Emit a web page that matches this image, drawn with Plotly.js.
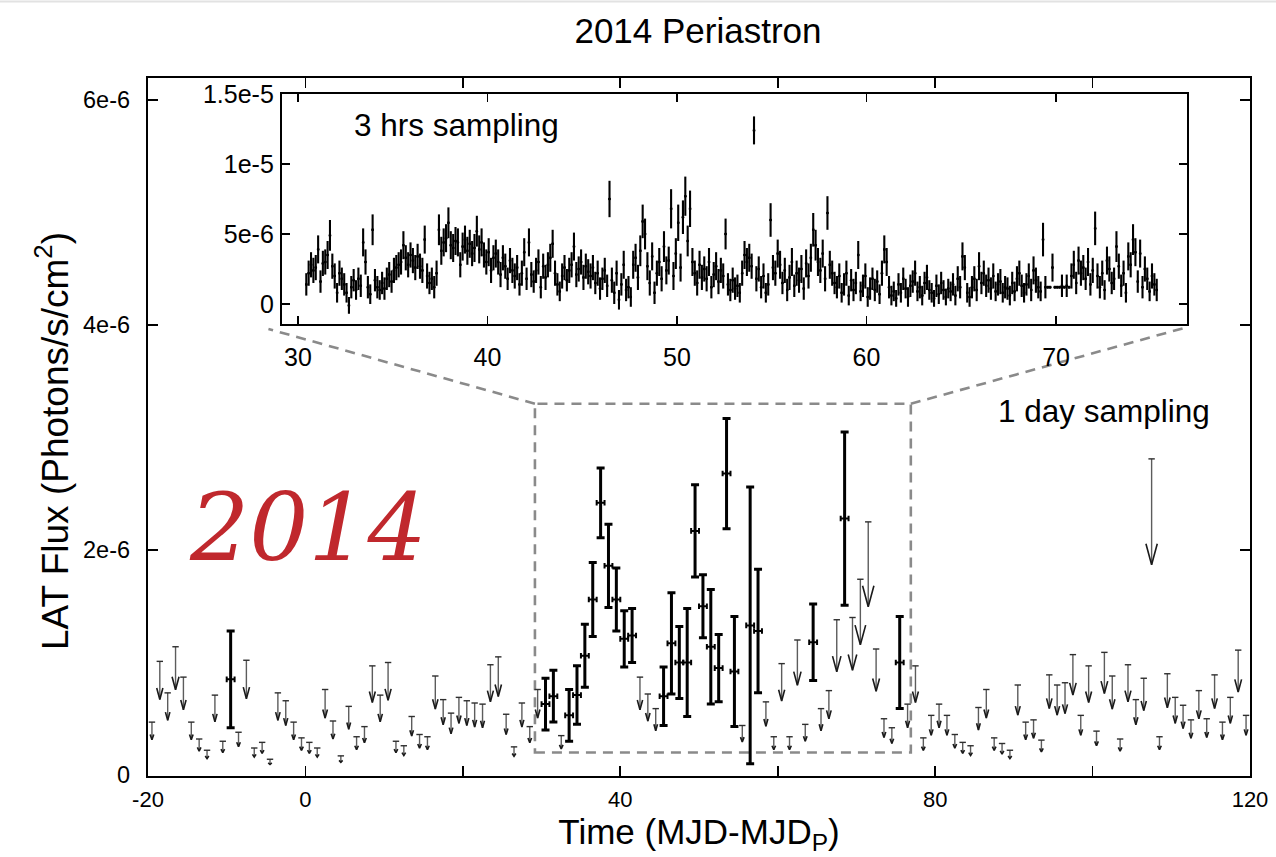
<!DOCTYPE html>
<html>
<head>
<meta charset="utf-8">
<script src="https://cdn.plot.ly/plotly-3.0.1.min.js"></script>
<style>
  html, body { margin: 0; padding: 0; background: #ffffff; }
  #chart { width: 1276px; height: 857px; }
</style>
</head>
<body>
<div id="chart"></div>
<script>
// LAT light curve around the 2014 periastron.
// Fluxes in the arrays below are in units of FLUX_UNIT (photons/s/cm^2).
const FLUX_UNIT = 1e-6;

// 1-day bins: 95% upper limits (day centre, MJD - MJD_P)
const ulDays = [
  -19.5, -18.5, -17.5, -16.5, -15.5, -14.5, -13.5, -12.5, -11.5, -10.5,
  -8.5, -7.5, -6.5, -5.5, -4.5, -3.5, -2.5, -1.5, -0.5, 0.5,
  1.5, 2.5, 3.5, 4.5, 5.5, 6.5, 7.5, 8.5, 9.5, 10.5,
  11.5, 12.5, 13.5, 14.5, 15.5, 16.5, 17.5, 18.5, 19.5, 20.5,
  21.5, 22.5, 23.5, 24.5, 25.5, 26.5, 27.5, 28.5, 29.5, 32.5,
  42.5, 43.5, 44.5, 55.5, 58.5, 59.5, 60.5, 61.5, 62.5, 63.5,
  65.5, 66.5, 67.5, 69.5, 70.5, 71.5, 72.5, 73.5, 74.5, 76.5,
  77.5, 78.5, 79.5, 80.5, 81.5, 82.5, 83.5, 84.5, 85.5, 86.5,
  87.5, 88.5, 89.5, 90.5, 91.5, 92.5, 93.5, 94.5, 95.5, 96.5,
  97.5, 98.5, 99.5, 100.5, 101.5, 102.5, 103.5, 104.5, 105.5, 106.5,
  107.5, 108.5, 109.5, 110.5, 111.5, 112.5, 113.5, 114.5, 115.5, 116.5,
  117.5, 118.5, 119.5
];
const ulFlux = [
  0.47, 1.01, 0.73, 1.14, 0.87, 0.47, 0.32, 0.22, 0.71, 0.30,
  0.38, 1.02, 0.24, 0.29, 0.14, 0.73, 0.66, 0.47, 0.33, 0.29,
  0.24, 0.76, 0.48, 0.17, 0.61, 0.34, 0.43, 0.97, 0.71, 1.00,
  0.30, 0.26, 0.52, 0.36, 0.34, 0.88, 0.67, 0.55, 0.69, 0.66,
  0.64, 0.63, 0.98, 1.05, 0.54, 0.25, 0.64, 0.43, 0.76, 0.35,
  0.87, 0.72, 0.59, 0.44, 0.65, 0.34, 0.99, 0.34, 1.20, 0.45,
  0.59, 0.75, 1.38, 1.40, 1.74, 2.25, 1.12, 0.50, 0.42, 0.63,
  0.97, 0.33, 0.53, 0.63, 0.53, 0.36, 0.29, 0.26, 0.60, 0.76,
  0.33, 0.28, 0.22, 0.80, 0.47, 0.49, 0.31, 0.89, 0.80, 0.82,
  1.07, 0.53, 0.97, 0.39, 1.09, 0.88, 0.32, 0.98, 0.67, 0.86,
  2.81, 0.34, 0.90, 0.69, 0.62, 0.49, 0.75, 0.50, 0.89, 0.47,
  0.69, 1.11, 0.53
];

// 1-day bins: detections with 1-sigma errors
const detDays = [
  -9.5, 30.5, 31.5, 33.5, 34.5, 35.5, 36.5, 37.5, 38.5, 39.5,
  40.5, 41.5, 45.5, 46.5, 47.5, 48.5, 49.5, 50.5, 51.5, 52.5,
  53.5, 54.5, 56.5, 57.5, 64.5, 68.5, 75.5
];
const detFlux = [
  0.85, 0.63, 0.70, 0.53, 0.71, 1.06, 1.56, 2.42, 1.86, 1.56,
  1.21, 1.24, 0.70, 1.17, 1.00, 1.00, 2.17, 1.50, 1.14, 0.95,
  2.68, 0.92, 1.33, 1.28, 1.18, 2.28, 1.00
];
const detErr = [
  0.43, 0.23, 0.23, 0.23, 0.26, 0.28, 0.33, 0.31, 0.37, 0.28,
  0.25, 0.24, 0.26, 0.45, 0.32, 0.48, 0.41, 0.28, 0.51, 0.30,
  0.49, 0.49, 1.23, 0.55, 0.34, 0.77, 0.41
];

// 3-hour bins (inset): first bin centre, bin width (days), one row per day.
// Flux and error in units of INSET_UNIT.
const INSET_UNIT = 1e-7;
const insetStart = 30.4375;
const insetStep = 0.125;
const insetFlux = [
  14, 22, 28, 24, 26, 39, 16, 29,
  30, 35, 49, 27, 20, 8, 22, 18,
  14, 8, -1, 12, 17, 10, 18, 13,
  44, 30, 12, 7, 53, 17, 12, 10,
  15, 11, 18, 21, 16, 24, 26, 28,
  30, 42, 33, 28, 35, 31, 26, 34,
  27, 24, 46, 20, 15, 18, 12, 22,
  53, 38, 44, 47, 58, 42, 40, 45,
  44, 28, 41, 46, 38, 43, 36, 40,
  52, 39, 44, 35, 30, 37, 24, 33,
  36, 30, 21, 33, 27, 18, 31, 24,
  20, 26, 14, 22, 37, 18, 44, 21,
  16, 24, 30, 12, 27, 19, 28, 33,
  43, 22, 14, 9, 20, 26, 17, 24,
  28, 41, 21, 25, 30, 19, 27, 23,
  20, 26, 15, 22, 11, 18, 24, 13,
  75, 17, 8, 22, 3, 14, 28, 10,
  12, 5, 28, 33, 19, 38, 59, 50,
  27, 15, 34, 8, 22, 30, 18, 41,
  24, 31, 68, 20, 36, 58, 26, 62,
  77, 45, 68, 30, 22, 15, 28, 19,
  25, 18, 30, 12, 21, 27, 16, 24,
  20, 50, 14, 10, 17, 11, 13, 8,
  22, 35, 30, 33, 27, 124, 18, 25,
  12, 20, 8, 14, 60, 26, 22, 36,
  28, 15, 24, 10, 19, 30, 13, 22,
  17, 25, 11, 29, 20, 33, 53, 42,
  30, 24, 36, 18, 65, 28, 22, 15,
  12, 20, 8, 14, 22, 6, 17, 10,
  15, 35, 9, 13, 20, 5, 11, 18,
  10, 16, 7, 22, 39, 30, 12, 6,
  9, 4, 14, 8, 18, 11, 5, 13,
  16, 22, 9, 12, 6, 15, 19, 10,
  8, 4, 13, 7, 15, 10, 5, 11,
  9, 14, 6, 18, 12, 34, 26, 8,
  5, 12, 18, 10, 27, 15, 22, 13,
  17, 11, 20, 9, 14, 16, 8, 12,
  11, 6, 15, 9, 18, 22, 13, 8,
  14, 20, 10, 24, 17, 12, 9, 46,
  12, 12, 12, 26, 12, 12, 12, 13,
  12, 13, 12, 20, 28, 15, 31, 22,
  26, 18, 30, 14, 24, 54, 20, 12,
  22, 10, 31, 25, 15, 18, 41, 27,
  13, 22, 8, 34, 28, 46, 37, 16,
  36, 12, 25, 18, 9, 20, 14, 10
];
const insetErr = [
  8, 9, 9, 9, 9, 10, 8, 9,
  9, 10, 11, 9, 9, 7, 9, 8,
  8, 7, 6, 8, 8, 7, 8, 8,
  10, 9, 8, 7, 11, 8, 8, 7,
  8, 8, 8, 9, 8, 9, 9, 9,
  9, 10, 9, 9, 9, 9, 9, 9,
  9, 9, 10, 9, 8, 8, 8, 9,
  11, 10, 10, 10, 11, 10, 10, 10,
  10, 9, 10, 10, 10, 10, 9, 10,
  11, 10, 10, 9, 9, 10, 9, 9,
  10, 9, 9, 9, 9, 8, 9, 9,
  9, 9, 8, 9, 10, 8, 10, 9,
  8, 9, 9, 8, 9, 9, 9, 10,
  10, 9, 8, 7, 9, 9, 8, 9,
  9, 10, 9, 9, 9, 9, 9, 9,
  9, 9, 8, 9, 8, 8, 9, 8,
  13, 9, 8, 9, 7, 8, 10, 8,
  8, 7, 10, 10, 9, 11, 12, 11,
  10, 9, 10, 8, 9, 10, 9, 11,
  10, 10, 14, 10, 11, 13, 10, 12,
  14, 11, 13, 10, 9, 9, 10, 9,
  9, 9, 10, 8, 9, 10, 9, 9,
  9, 11, 8, 8, 9, 8, 8, 7,
  9, 10, 10, 10, 9, 10, 9, 9,
  8, 9, 7, 8, 12, 9, 9, 10,
  10, 8, 9, 8, 9, 10, 8, 9,
  9, 10, 8, 10, 9, 10, 12, 11,
  10, 9, 10, 9, 12, 10, 9, 8,
  8, 9, 7, 8, 9, 7, 8, 8,
  8, 10, 7, 8, 9, 7, 8, 8,
  8, 8, 7, 9, 10, 10, 8, 7,
  7, 6, 8, 7, 8, 7, 7, 8,
  8, 9, 7, 8, 7, 8, 9, 7,
  7, 6, 8, 7, 8, 7, 6, 7,
  7, 8, 7, 9, 8, 10, 9, 7,
  7, 8, 9, 8, 10, 8, 9, 8,
  9, 8, 9, 7, 8, 9, 7, 8,
  8, 7, 8, 7, 9, 9, 8, 7,
  8, 9, 8, 10, 9, 8, 7, 12,
  8, 1, 1, 10, 1, 1, 1, 8,
  1, 8, 1, 9, 10, 8, 10, 9,
  9, 8, 10, 8, 9, 12, 9, 8,
  9, 7, 10, 9, 8, 8, 11, 9,
  8, 9, 7, 10, 9, 11, 10, 8,
  10, 8, 9, 8, 7, 9, 8, 8
];

// Axis ticks (labelled major ticks, unlabelled minor ticks)
const mainXTicks = [-20, 0, 40, 80, 120];
const mainXLabels = ['-20', '0', '40', '80', '120'];
const mainXMinor = [20, 60, 100];
const mainYTicks = [0, 2e-6, 4e-6, 6e-6];
const mainYLabels = ['0', '2e-6', '4e-6', '6e-6'];
const insetXTicks = [30, 40, 50, 60, 70];
const insetXLabels = ['30', '40', '50', '60', '70'];
const insetYTicks = [0, 5e-6, 1e-5, 1.5e-5];
const insetYLabels = ['0', '5e-6', '1e-5', '1.5e-5'];

// Zoom window shown in the inset (days, flux)
const zoomX = [29.156, 76.91];
const zoomY = [0.2e-6, 3.3e-6];

// ---- geometry ----
const W = 1276, H = 857;
const M = { l: 148, r: 26, t: 78, b: 81 };
const mainXRange = [-20, 120];
const mainYRange = [-0.0089e-6, 6.1956e-6];
const insetYRange = [-1.43e-6, 15e-6];
const plotW = W - M.l - M.r, plotH = H - M.t - M.b;
const pxPerDay = plotW / (mainXRange[1] - mainXRange[0]);
const pxPerFlux = plotH / (mainYRange[1] - mainYRange[0]);

// ---- upper-limit arrows: cap, stem and open head ----
const TIP_FRAC = 0.665;
const stem = { x: [], y: [] }, caps = { x: [], y: [] }, heads = { x: [], y: [] };
const capHalf = 3.2 / pxPerDay;
ulDays.forEach((d, i) => {
  const u = ulFlux[i] * FLUX_UNIT;
  const tip = u * TIP_FRAC;
  const lenPx = (u - tip) * pxPerFlux;
  const headPx = Math.min(0.3 * lenPx, 21);
  const halfPx = Math.max(0.27 * headPx, 1.8);
  const headTop = tip + headPx / pxPerFlux;
  const hw = halfPx / pxPerDay;
  stem.x.push(d, d, null); stem.y.push(u, tip, null);
  caps.x.push(d - capHalf, d + capHalf, null); caps.y.push(u, u, null);
  heads.x.push(d - hw, d, d + hw, null); heads.y.push(headTop, tip, headTop, null);
});

const insetT = insetFlux.map((_, k) => insetStart + k * insetStep);

const traces = [
  { type: 'scatter', mode: 'lines', x: stem.x, y: stem.y, hoverinfo: 'skip',
    line: { color: '#5c5c5c', width: 1.4 }, connectgaps: false },
  { type: 'scatter', mode: 'lines', x: caps.x, y: caps.y, hoverinfo: 'skip',
    line: { color: '#2e2e2e', width: 1.4 }, connectgaps: false },
  { type: 'scatter', mode: 'lines', x: heads.x, y: heads.y, hoverinfo: 'skip',
    line: { color: '#1a1a1a', width: 1.6 }, connectgaps: false },
  { type: 'scatter', mode: 'markers', x: detDays, y: detFlux.map(v => v * FLUX_UNIT),
    marker: { size: 2, color: '#000' },
    error_y: { type: 'data', array: detErr.map(v => v * FLUX_UNIT), thickness: 3, width: 4, color: '#000' },
    error_x: { type: 'constant', value: 0.5, thickness: 2, width: 2.8, color: '#000' } },
  { type: 'scatter', mode: 'markers', xaxis: 'x2', yaxis: 'y2',
    x: insetT, y: insetFlux.map(v => v * INSET_UNIT),
    marker: { size: 2.5, color: '#000' },
    error_y: { type: 'data', array: insetErr.map(v => v * INSET_UNIT), thickness: 2.1, width: 0, color: '#000' },
    error_x: { type: 'constant', value: insetStep / 2, thickness: 2.2, width: 0, color: '#000' } }
];

const FONT = 'Liberation Sans, Arial, sans-serif';
const axisCommon = {
  showline: true, linecolor: '#000', linewidth: 2.2, mirror: 'ticks',
  ticks: 'inside', tickcolor: '#000', tickwidth: 1.6,
  showgrid: false, zeroline: false, tickmode: 'array',
  tickfont: { family: FONT, size: 23.5, color: '#000' }
};
const insetTickFont = { family: FONT, size: 25, color: '#000' };

const layout = {
  width: W, height: H, margin: M,
  paper_bgcolor: '#fff', plot_bgcolor: '#fff', showlegend: false,
  title: { text: '2014 Periastron', x: 698 / W, xanchor: 'center', y: 1 - 31 / H, yanchor: 'middle',
           font: { family: FONT, size: 35, color: '#000' } },
  xaxis: Object.assign({}, axisCommon, {
    range: mainXRange, tickvals: mainXTicks, ticktext: mainXLabels, ticklen: 10,
    minor: { tickmode: 'array', tickvals: mainXMinor, ticks: 'inside', ticklen: 10, tickwidth: 1.6, tickcolor: '#000', showgrid: false },
    tickfont: { family: FONT, size: 22, color: '#000' },
    ticklabelstandoff: 2,
    title: { text: 'Time (MJD-MJD<sub>P</sub>)', font: { family: FONT, size: 35, color: '#000' }, standoff: 3 }
  }),
  yaxis: Object.assign({}, axisCommon, {
    range: mainYRange, tickvals: mainYTicks, ticktext: mainYLabels, ticklen: 10,
    ticklabelstandoff: 11
  }),
  xaxis2: Object.assign({}, axisCommon, {
    domain: [(282 - M.l) / plotW, (1187 - M.l) / plotW], anchor: 'y2',
    range: zoomX, tickvals: insetXTicks, ticktext: insetXLabels, ticklen: 8,
    tickfont: insetTickFont, ticklabelstandoff: 10
  }),
  yaxis2: Object.assign({}, axisCommon, {
    domain: [(H - M.b - 324) / plotH, (H - M.b - 94) / plotH], anchor: 'x2',
    range: insetYRange, tickvals: insetYTicks, ticktext: insetYLabels, ticklen: 8,
    tickfont: insetTickFont, ticklabelstandoff: 1
  }),
  shapes: [
    { type: 'rect', xref: 'x', yref: 'y', x0: zoomX[0], x1: zoomX[1], y0: zoomY[0], y1: zoomY[1],
      line: { color: '#8a8a8a', width: 2.6, dash: '10px,7px' }, layer: 'below' },
    { type: 'line', xref: 'x', yref: 'y', x0: zoomX[0], y0: zoomY[1], x1: -4.7, y1: 3.965e-6,
      line: { color: '#8a8a8a', width: 2.6, dash: '10px,7px' }, layer: 'below' },
    { type: 'line', xref: 'x', yref: 'y', x0: zoomX[1], y0: zoomY[1], x1: 111.7, y1: 3.975e-6,
      line: { color: '#8a8a8a', width: 2.6, dash: '10px,7px' }, layer: 'below' },
    { type: 'line', xref: 'paper', yref: 'paper', x0: -M.l / plotW, x1: 1 + M.r / plotW,
      y0: (H - M.b - 1.5) / plotH, y1: (H - M.b - 1.5) / plotH,
      line: { color: '#e2e2e2', width: 2 } }
  ],
  annotations: [
    { xref: 'paper', yref: 'paper', x: (52 - M.l) / plotW, y: (H - M.b - 441) / plotH,
      xanchor: 'center', yanchor: 'middle', textangle: -90, showarrow: false,
      text: 'LAT Flux (Photons/s/cm<sup>2</sup>)', font: { family: FONT, size: 37, color: '#000' } },
    { xref: 'x2', yref: 'y2', x: 32.85, y: 12.8e-6, xanchor: 'left', yanchor: 'middle', showarrow: false,
      text: '3 hrs sampling', font: { family: FONT, size: 31.5, color: '#000' } },
    { xref: 'x', yref: 'y', x: 87.7, y: 3.24e-6, xanchor: 'left', yanchor: 'middle', showarrow: false,
      text: '1 day sampling', font: { family: FONT, size: 31.5, color: '#000' } },
    { xref: 'x', yref: 'y', x: 0.3, y: 2.2e-6, xanchor: 'center', yanchor: 'middle', showarrow: false,
      text: '2014', font: { family: 'DejaVu Serif, Liberation Serif, serif', size: 93, color: '#c0282d', style: 'italic' } }
  ]
};

Plotly.newPlot('chart', traces, layout, { displayModeBar: false, staticPlot: true });
</script>
</body>
</html>
